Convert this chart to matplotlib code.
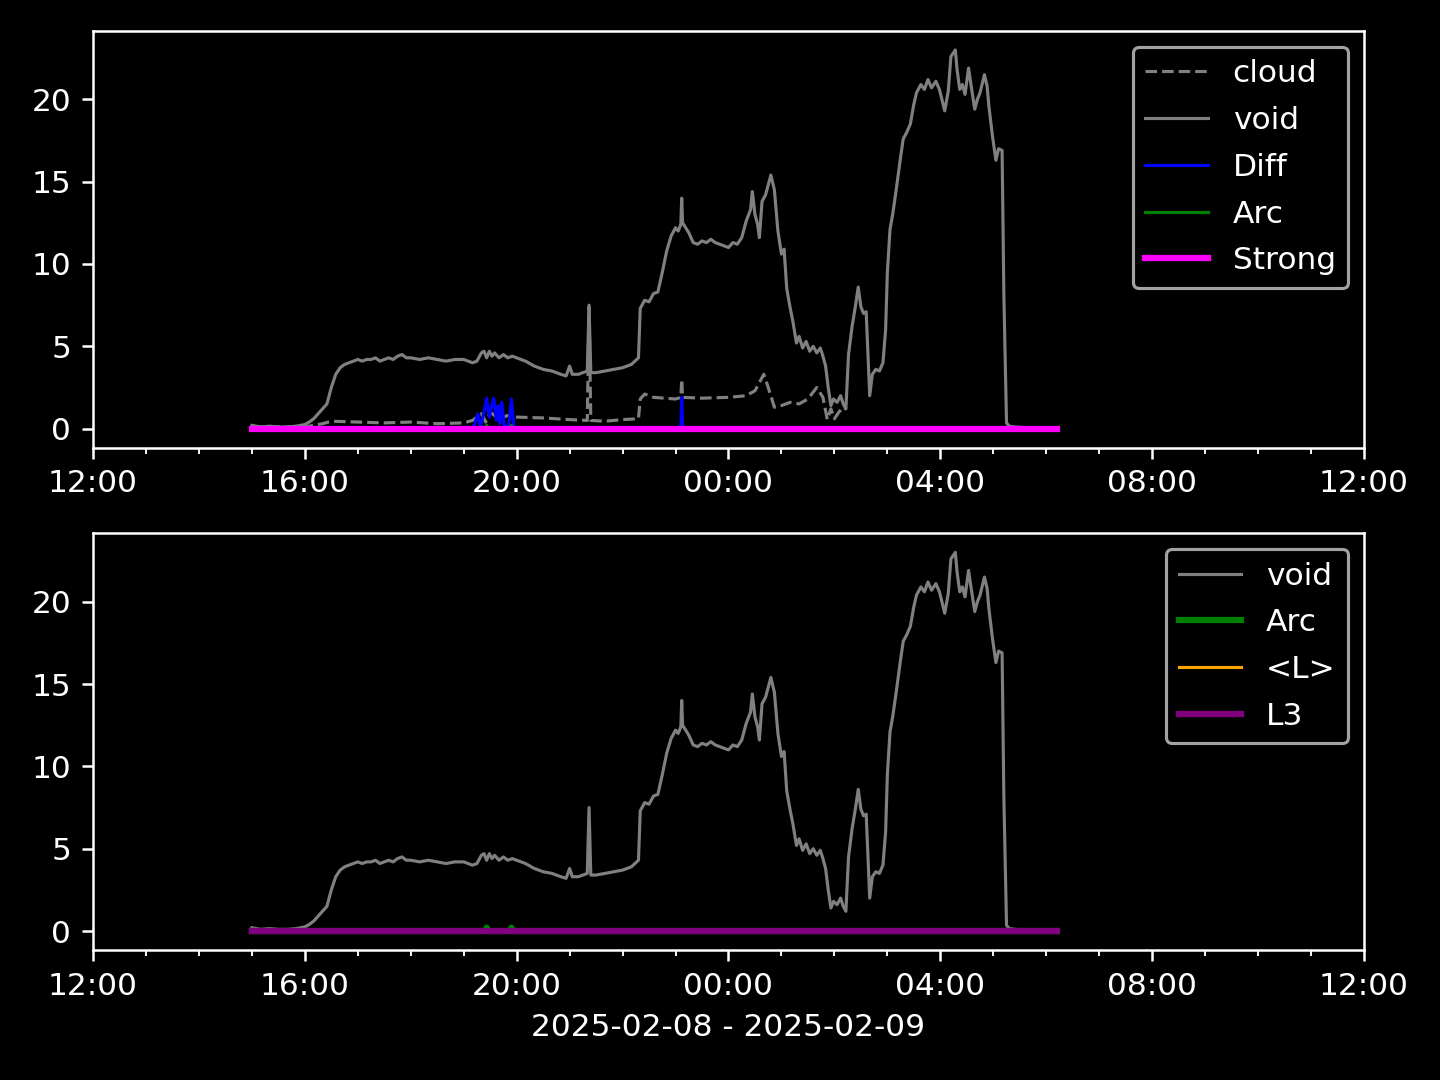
import matplotlib
matplotlib.use("Agg")
import matplotlib.pyplot as plt
import matplotlib.dates as mdates
import pandas as pd

plt.style.use('dark_background')

# night of 2025-02-08 -> 2025-02-09, times as HH:MM (before 12:00 = next day)
void_t = ["15:00", "15:10", "15:20", "15:30", "15:40", "15:50", "16:00", "16:05", "16:10", "16:15",
          "16:20", "16:25", "16:30", "16:35", "16:40", "16:45", "16:50", "16:55", "17:00", "17:05",
          "17:10", "17:15", "17:20", "17:25", "17:30", "17:35", "17:40", "17:45", "17:50", "17:55",
          "18:00", "18:10", "18:20", "18:30", "18:40", "18:50", "19:00", "19:10", "19:15", "19:20",
          "19:23", "19:26", "19:29", "19:32", "19:35", "19:40", "19:45", "19:50", "19:55", "20:00",
          "20:10", "20:20", "20:30", "20:40", "20:50", "20:56", "21:00", "21:03", "21:10", "21:20",
          "21:22", "21:24", "21:30", "21:40", "21:50", "22:00", "22:10", "22:18", "22:20", "22:25",
          "22:30", "22:35", "22:40", "22:45", "22:50", "22:55", "23:00", "23:03", "23:06", "23:07",
          "23:08", "23:15", "23:20", "23:25", "23:30", "23:35", "23:40", "23:45", "23:50", "23:55",
          "00:00", "00:05", "00:10", "00:15", "00:20", "00:25", "00:27", "00:30", "00:33", "00:35",
          "00:38", "00:42", "00:45", "00:48", "00:52", "00:56", "01:00", "01:03", "01:06", "01:10",
          "01:13", "01:17", "01:20", "01:24", "01:28", "01:32", "01:36", "01:40", "01:44", "01:47",
          "01:50", "01:53", "01:56", "01:59", "02:03", "02:07", "02:10", "02:13", "02:16", "02:20",
          "02:24", "02:27", "02:30", "02:33", "02:36", "02:38", "02:40", "02:43", "02:47", "02:51",
          "02:55", "02:58", "03:00", "03:03", "03:06", "03:10", "03:15", "03:18", "03:22", "03:26",
          "03:30", "03:33", "03:38", "03:42", "03:46", "03:50", "03:55", "03:59", "04:05", "04:09",
          "04:12", "04:17", "04:19", "04:22", "04:25", "04:28", "04:32", "04:35", "04:39", "04:42",
          "04:45", "04:50", "04:53", "04:55", "04:59", "05:03", "05:06", "05:10", "05:12", "05:15",
          "05:18", "05:25", "05:40", "06:00", "06:12"]
void_v = [0.2, 0.1, 0.15, 0.1, 0.1, 0.15, 0.25, 0.4, 0.6, 0.9,
          1.2, 1.5, 2.5, 3.3, 3.7, 3.9, 4.0, 4.1, 4.2, 4.1,
          4.2, 4.2, 4.3, 4.1, 4.2, 4.3, 4.2, 4.4, 4.5, 4.3,
          4.3, 4.2, 4.3, 4.2, 4.1, 4.2, 4.2, 4.0, 4.1, 4.6,
          4.7, 4.3, 4.7, 4.4, 4.6, 4.3, 4.5, 4.3, 4.4, 4.3,
          4.1, 3.8, 3.6, 3.5, 3.3, 3.2, 3.8, 3.3, 3.3, 3.5,
          7.5, 3.4, 3.4, 3.5, 3.6, 3.7, 3.9, 4.3, 7.3, 7.8,
          7.7, 8.2, 8.3, 9.5, 10.8, 11.7, 12.2, 12.0, 12.4, 14.0,
          12.5, 11.9, 11.3, 11.2, 11.4, 11.3, 11.5, 11.3, 11.2, 11.1,
          11.0, 11.3, 11.2, 11.6, 12.6, 13.3, 14.4, 13.0, 12.4, 11.6,
          13.8, 14.2, 14.8, 15.4, 14.5, 12.0, 10.6, 10.9, 8.5, 7.3,
          6.5, 5.2, 5.6, 4.9, 5.3, 4.7, 5.0, 4.6, 4.9, 4.4,
          3.8, 2.5, 1.4, 1.8, 1.6, 2.0, 1.5, 1.2, 4.5, 6.2,
          7.5, 8.6, 7.4, 7.0, 7.1, 4.5, 2.0, 3.3, 3.6, 3.5,
          4.0, 6.0, 9.5, 12.1, 13.0, 14.5, 16.5, 17.6, 18.0, 18.5,
          19.7, 20.4, 20.9, 20.6, 21.2, 20.7, 21.1, 20.6, 19.3, 20.5,
          22.6, 23.0, 21.8, 20.6, 20.9, 20.3, 21.9, 20.8, 19.4, 20.0,
          20.4, 21.5, 20.8, 19.6, 17.8, 16.3, 17.0, 16.9, 8.1, 0.35,
          0.15, 0.1, 0.05, 0.05, 0.05]

cloud_t = ["15:00", "15:30", "16:00", "16:20", "16:30", "17:00", "17:30", "18:00", "18:30", "19:00",
           "19:10", "19:20", "19:25", "19:30", "19:40", "19:50", "20:00", "20:30", "21:00", "21:20",
           "21:22", "21:24", "21:40", "22:00", "22:18", "22:20", "22:25", "22:35", "23:00", "23:06",
           "23:07", "23:08", "23:30", "00:00", "00:20", "00:30", "00:40", "00:45", "00:52", "01:00",
           "01:10", "01:20", "01:30", "01:40", "01:47", "01:52", "01:56", "02:00", "02:05", "02:10",
           "02:13"]
cloud_v = [0.1, 0.1, 0.1, 0.3, 0.45, 0.4, 0.35, 0.4, 0.3, 0.35,
           0.5, 0.9, 0.4, 1.0, 0.6, 0.8, 0.7, 0.65, 0.55, 0.5,
           7.4, 0.5, 0.45, 0.55, 0.6, 1.8, 2.1, 1.9, 1.8, 1.9,
           3.0, 1.9, 1.85, 1.9, 2.0, 2.3, 3.3, 2.5, 1.3, 1.4,
           1.6, 1.5, 1.8, 2.5, 1.9, 0.55, 1.2, 0.6, 1.0, 1.3,
           1.2]

diff_t = ["15:00", "19:07", "19:12", "19:16", "19:19", "19:23", "19:26", "19:29", "19:31", "19:34",
          "19:37", "19:39", "19:41", "19:43", "19:46", "19:51", "19:54", "19:57", "23:06", "23:07",
          "23:08", "06:12"]
diff_v = [0, 0, 0.2, 0.9, 0.1, 1.0, 1.85, 0.7, 1.2, 1.85,
          0.5, 1.4, 0.3, 1.6, 0.1, 0.2, 1.8, 0, 0, 1.9,
          0, 0]

arc_t = ["15:00", "19:24", "19:26", "19:28", "19:52", "19:54", "19:56", "06:12"]
arc_v = [0, 0, 0.2, 0, 0, 0.2, 0, 0]

flat_t = ["15:00", "06:12"]
strong_v = [0, 0]
mean_l_v = [0, 0]
l3_v = [0, 0]


def stamps(tt):
    out = []
    for s in tt:
        day = "2025-02-08" if int(s[:2]) >= 12 else "2025-02-09"
        out.append(pd.Timestamp(day + " " + s))
    return out


fig, (ax1, ax2) = plt.subplots(2, 1, figsize=(6.4, 4.8), dpi=225)
fig.subplots_adjust(left=0.0646, right=0.9472, top=0.9713, bottom=0.1204, hspace=0.206)

ax1.plot(stamps(cloud_t), cloud_v, color='gray', ls='--', lw=1, label='cloud')
ax1.plot(stamps(void_t), void_v, color='gray', lw=1, label='void')
ax1.plot(stamps(diff_t), diff_v, color='blue', lw=1, label='Diff')
ax1.plot(stamps(arc_t), arc_v, color='green', lw=1, label='Arc')
ax1.plot(stamps(flat_t), strong_v, color='magenta', lw=2, label='Strong')
ax1.legend(loc='upper right', labelspacing=0.57)

ax2.plot(stamps(void_t), void_v, color='gray', lw=1, label='void')
ax2.plot(stamps(arc_t), arc_v, color='green', lw=2, label='Arc')
ax2.plot(stamps(flat_t), mean_l_v, color='orange', lw=1, label='<L>')
ax2.plot(stamps(flat_t), l3_v, color='purple', lw=2, label='L3')
ax2.legend(loc='upper right', labelspacing=0.57)
ax2.set_xlabel('2025-02-08 - 2025-02-09')

for ax in (ax1, ax2):
    ax.set_xlim(pd.Timestamp("2025-02-08 12:00"), pd.Timestamp("2025-02-09 12:00"))
    ax.xaxis.set_major_locator(mdates.HourLocator(byhour=range(0, 24, 4)))
    ax.xaxis.set_minor_locator(mdates.HourLocator())
    ax.xaxis.set_major_formatter(mdates.DateFormatter('%H:%M'))

fig.savefig('out.png')
